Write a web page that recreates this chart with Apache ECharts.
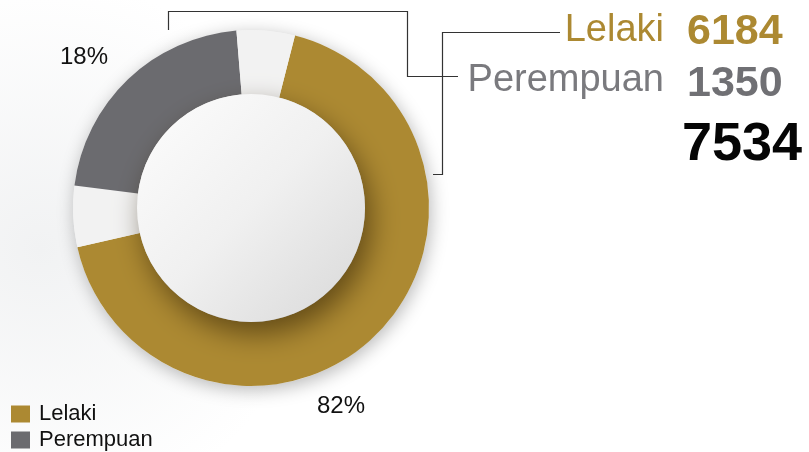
<!DOCTYPE html>
<html>
<head>
<meta charset="utf-8">
<script src="https://cdn.jsdelivr.net/npm/echarts@6/dist/echarts.min.js"></script>
<style>
html,body{margin:0;padding:0;background:#fff;}
#c{width:809px;height:452px;}
</style>
</head>
<body>
<div id="c"></div>
<script>
// ---- data ----
var categories = ['Lelaki', 'Perempuan'];
var counts = [6184, 1350];
var total = 7534;
var percentLabels = ['82%', '18%'];
// drawn arc sizes of the ring (degrees, as drawn in the picture), incl. white gaps
var arcLelaki = 243;
var arcGapAfterLelaki = 20;
var arcPerempuan = 78;
var arcGapAfterPerempuan = 19;
var colors = ['#AC8932', '#6B6B6F'];

var chart = echarts.init(document.getElementById('c'), null, {renderer: 'canvas'});
var CX = 251, CY = 208, RO = 178, RI = 114;
var font = '"Liberation Sans", Arial, Helvetica, sans-serif';

var ringData = [
  {name: categories[0], value: arcLelaki, itemStyle: {color: colors[0]}},
  {name: 'gap1', value: arcGapAfterLelaki, itemStyle: {color: '#F2F2F2'}},
  {name: categories[1], value: arcPerempuan, itemStyle: {color: colors[1]}},
  {name: 'gap2', value: arcGapAfterPerempuan, itemStyle: {color: '#F2F2F2'}}
];

var option = {
  backgroundColor: {
    type: 'radial', x: 0.05, y: 0.55, r: 0.6,
    colorStops: [{offset: 0, color: '#F1F2F3'}, {offset: 1, color: '#FFFFFF'}]
  },
  animation: false,
  legend: {
    orient: 'vertical', left: 6, top: 398, height: 54,
    data: categories,
    itemWidth: 19, itemHeight: 17, itemGap: 4,
    icon: 'rect',
    textStyle: {fontFamily: font, fontSize: 22, lineHeight: 22, color: '#111', padding: [0, 0, 0, 4]},
    selectedMode: false
  },
  series: [
    {
      type: 'pie', silent: true, center: [CX, CY], radius: [0, RO],
      label: {show: false}, labelLine: {show: false},
      itemStyle: {color: '#F2F2F2', shadowBlur: 18, shadowColor: 'rgba(0,0,0,0.28)', shadowOffsetX: 2, shadowOffsetY: 4},
      data: [{value: 1, name: 'bg'}], z: 1
    },
    {
      type: 'pie', silent: true, center: [CX, CY], radius: [RI, RO],
      startAngle: 90 - 14.3, clockwise: true,
      label: {show: false}, labelLine: {show: false},
      data: ringData, z: 2
    },
    {
      type: 'pie', silent: true, center: [CX, CY], radius: [0, RI],
      label: {show: false}, labelLine: {show: false},
      itemStyle: {
        color: {type: 'linear', x: 0, y: 0, x2: 1, y2: 1,
          colorStops: [{offset: 0, color: '#FDFDFD'}, {offset: 0.5, color: '#F0F0F0'}, {offset: 1, color: '#D8D8D8'}]},
        shadowBlur: 28, shadowColor: 'rgba(40,25,0,0.55)', shadowOffsetX: 6, shadowOffsetY: 12
      },
      data: [{value: 1, name: 'inner'}], z: 3
    }
  ],
  graphic: [
    // leader brackets
    {type: 'polyline', shape: {points: [[168.5, 30], [168.5, 11.5], [407.5, 11.5], [407.5, 76.5], [458, 76.5]]},
      style: {stroke: '#333', lineWidth: 1.2, fill: null}, z: 10},
    {type: 'polyline', shape: {points: [[433, 174.5], [442.5, 174.5], [442.5, 32.5], [560, 32.5]]},
      style: {stroke: '#333', lineWidth: 1.2, fill: null}, z: 10},
    // category names
    {type: 'text', style: {text: categories[0], x: 664, y: 50, textAlign: 'right', textVerticalAlign: 'bottom',
      font: '38px ' + font, fill: colors[0]}},
    {type: 'text', style: {text: categories[1], x: 664, y: 100, textAlign: 'right', textVerticalAlign: 'bottom',
      font: '38px ' + font, fill: '#7A7A7E'}},
    // counts
    {type: 'text', style: {text: String(counts[0]), x: 687, y: 54, textAlign: 'left', textVerticalAlign: 'bottom',
      font: 'bold 43px ' + font, fill: colors[0]}},
    {type: 'text', style: {text: String(counts[1]), x: 687, y: 106, textAlign: 'left', textVerticalAlign: 'bottom',
      font: 'bold 43px ' + font, fill: '#707074'}},
    {type: 'text', style: {text: String(total), x: 682, y: 172, textAlign: 'left', textVerticalAlign: 'bottom',
      font: 'bold 54px ' + font, fill: '#050505'}},
    // percentages
    {type: 'text', style: {text: percentLabels[0], x: 341, y: 418, textAlign: 'center', textVerticalAlign: 'bottom',
      font: '24px ' + font, fill: '#111'}},
    {type: 'text', style: {text: percentLabels[1], x: 84, y: 69, textAlign: 'center', textVerticalAlign: 'bottom',
      font: '24px ' + font, fill: '#111'}}
  ]
};
chart.setOption(option);
</script>
</body>
</html>
